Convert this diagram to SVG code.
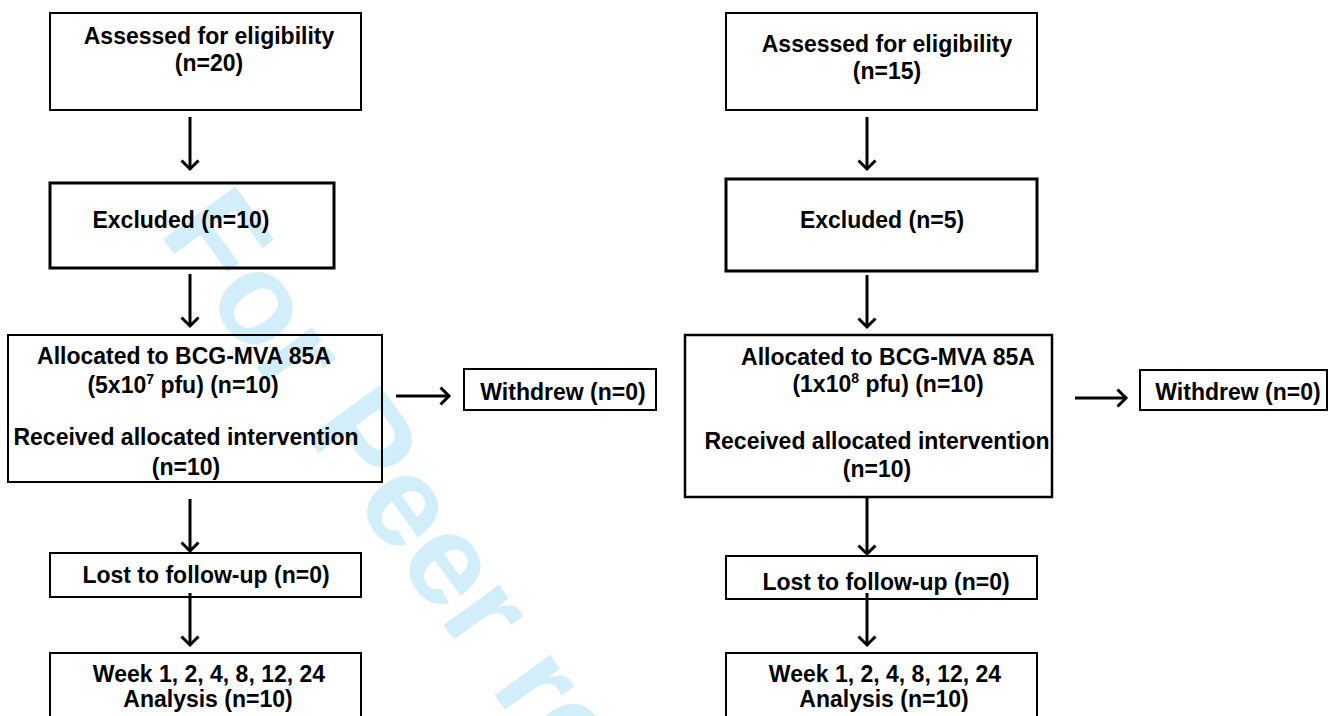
<svg xmlns="http://www.w3.org/2000/svg" width="1330" height="716" viewBox="0 0 1330 716">
<style>
.box{fill:none;stroke:#000;stroke-width:2}
.thick{stroke-width:3}
.t{font-family:"Liberation Sans",Arial,sans-serif;font-weight:bold;font-size:23px;fill:#000;text-anchor:middle}
.sup{font-size:14px}
.wm{font-family:"Liberation Sans",Arial,sans-serif;font-weight:bold;font-size:130px;fill:#d3eefb}
.c{fill:none;stroke:#000;stroke-width:3}
</style>
<defs>
<marker id="ah" markerUnits="userSpaceOnUse" markerWidth="24" markerHeight="24" refX="18" refY="12" orient="auto">
<path d="M9.5,3.5 L18,12 L9.5,20.5" fill="none" stroke="#000" stroke-width="3"/>
</marker>
</defs>
<rect width="1330" height="716" fill="#fff"/>
<text class="wm" transform="translate(158,232) rotate(54)">For Peer review</text>
<g id="connectors">
<line class="c" x1="190" y1="117" x2="190" y2="169" marker-end="url(#ah)"/>
<line class="c" x1="190" y1="274" x2="190" y2="326" marker-end="url(#ah)"/>
<line class="c" x1="396" y1="396" x2="449" y2="396" marker-end="url(#ah)"/>
<line class="c" x1="190" y1="499" x2="190" y2="551" marker-end="url(#ah)"/>
<line class="c" x1="190" y1="593" x2="190" y2="645" marker-end="url(#ah)"/>
<line class="c" x1="867" y1="117" x2="867" y2="169" marker-end="url(#ah)"/>
<line class="c" x1="867" y1="275" x2="867" y2="327" marker-end="url(#ah)"/>
<line class="c" x1="1075" y1="398" x2="1126" y2="398" marker-end="url(#ah)"/>
<line class="c" x1="867" y1="497" x2="867" y2="554" marker-end="url(#ah)"/>
<line class="c" x1="867" y1="593" x2="867" y2="645" marker-end="url(#ah)"/>
</g>
<g id="l-assessed">
<rect class="box" x="50" y="13" width="311" height="97"/>
<text class="t" x="209" y="44">Assessed for eligibility</text>
<text class="t" x="209" y="71">(n=20)</text>
</g>
<g id="l-excluded">
<rect class="box thick" x="50" y="183" width="284" height="85"/>
<text class="t" x="181" y="228">Excluded (n=10)</text>
</g>
<g id="l-allocated">
<rect class="box" x="8" y="335" width="374" height="147"/>
<text class="t" x="184" y="364">Allocated to BCG-MVA 85A</text>
<text class="t" x="183" y="393">(5x10<tspan class="sup" dy="-9">7</tspan><tspan dy="9"> pfu) (n=10)</tspan></text>
<text class="t" x="186" y="445">Received allocated intervention</text>
<text class="t" x="186" y="475">(n=10)</text>
</g>
<g id="l-withdrew">
<rect class="box" x="464" y="369" width="192" height="41"/>
<text class="t" x="563" y="400">Withdrew (n=0)</text>
</g>
<g id="l-lost">
<rect class="box" x="50" y="553" width="311" height="44"/>
<text class="t" x="206" y="583">Lost to follow-up (n=0)</text>
</g>
<g id="l-week">
<rect class="box" x="50" y="653" width="311" height="80"/>
<text class="t" x="209" y="682">Week 1, 2, 4, 8, 12, 24</text>
<text class="t" x="208" y="707">Analysis (n=10)</text>
</g>
<g id="r-assessed">
<rect class="box" x="726" y="13" width="311" height="97"/>
<text class="t" x="887" y="52">Assessed for eligibility</text>
<text class="t" x="887" y="79">(n=15)</text>
</g>
<g id="r-excluded">
<rect class="box thick" x="726" y="179" width="311" height="92"/>
<text class="t" x="882" y="228">Excluded (n=5)</text>
</g>
<g id="r-allocated">
<rect class="box" x="685" y="335" width="367" height="162" style="stroke-width:2.5"/>
<text class="t" x="888" y="365">Allocated to BCG-MVA 85A</text>
<text class="t" x="888" y="392">(1x10<tspan class="sup" dy="-9">8</tspan><tspan dy="9"> pfu) (n=10)</tspan></text>
<text class="t" x="877" y="449">Received allocated intervention</text>
<text class="t" x="877" y="477">(n=10)</text>
</g>
<g id="r-withdrew">
<rect class="box" x="1140" y="370" width="187" height="40"/>
<text class="t" x="1238" y="400">Withdrew (n=0)</text>
</g>
<g id="r-lost">
<rect class="box" x="726" y="556" width="311" height="43"/>
<text class="t" x="886" y="590">Lost to follow-up (n=0)</text>
</g>
<g id="r-week">
<rect class="box" x="726" y="653" width="311" height="80"/>
<text class="t" x="885" y="682">Week 1, 2, 4, 8, 12, 24</text>
<text class="t" x="884" y="707">Analysis (n=10)</text>
</g>
</svg>
